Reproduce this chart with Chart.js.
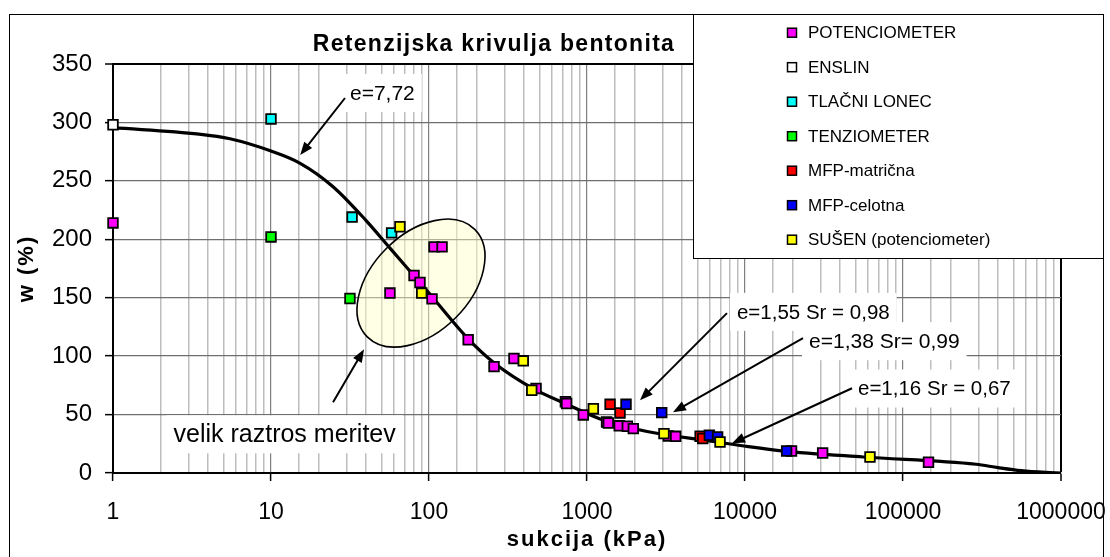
<!DOCTYPE html>
<html><head><meta charset="utf-8">
<script src="https://cdn.jsdelivr.net/npm/chart.js@4.4.1/dist/chart.umd.min.js"></script>
<style>html,body{margin:0;padding:0;background:#fff;}canvas{display:block}</style>
</head><body>
<canvas id="c" width="1110" height="557"></canvas>
<script>
// ---------- data ----------
const chartTitle = 'Retenzijska krivulja bentonita';
const xAxisTitle = 'sukcija (kPa)';
const yAxisTitle = 'w (%)';
const xTickLabels = ['1','10','100','1000','10000','100000','1000000'];
const yTickLabels = ['0','50','100','150','200','250','300','350'];

const seriesNames = ['POTENCIOMETER','ENSLIN','TLAČNI LONEC','TENZIOMETER','MFP-matrična','MFP-celotna','SUŠEN (potenciometer)'];

const potenciometer = [[1,214],[56.6,154],[80.4,169],[87.7,163],[104.5,149],[107.6,193.5],[121,193.5],
  [177,114],[258,91],[345,98],[476,72.3],[730,61],[743,59.5],[948,49.7],[1330,43.7],[1364,42.8],
  [1600,40.4],[1800,40],[1964,38],[3270,31.7],[3640,31.4],[19700,18.8],[31000,17.1],[145000,9.2]];
const enslin = [[1,298]];
const tlacniLonec = [[10,303],[32.6,219],[58,205.5]];
const tenziometer = [[10,202],[31.6,149.3]];
const mfpMatricna = [[1400,58.8],[1618,51.4],[5200,31.5],[5400,29.5]];
const mfpCelotna = [[1766,58.8],[2971,51.7],[5950,32.3],[6710,30.8],[18350,18.8]];
const susen = [[65.5,210.7],[89.9,154],[395,96],[447,70.8],[1097,55],[3070,33.7],[6950,26.5],[61800,13.7]];

const curve = [[1,295.5],[3.5,290],[5.5,286],[10,275.5],[15.3,265],[24.7,245],[40,216],[57,192],[100,154],
  [175,115.5],[260,94],[460,72],[740,59],[1200,46.5],[2400,35.5],[6300,27],[10500,22.5],[17000,19],
  [56000,13.7],[290000,7.5],[400000,4.6],[560000,2],[800000,0.5],[1000000,0]];

const seriesValues = [potenciometer, enslin, tlacniLonec, tenziometer, mfpMatricna, mfpCelotna, susen];
const seriesColors = ['#FF00FF','#FFFFFF','#00FFFF','#00FF00','#FF0000','#0000FF','#FFFF00'];

// annotations anchored in data coordinates
const labels = [
  {text:'e=7,72', x:31.6, w:325.2, align:'left', size:21},
  {text:'velik raztros meritev', x:12.2, w:33.1, align:'center', size:25},
  {text:'e=1,55 Sr = 0,98', x:8894, w:137.9, align:'left', size:20.5},
  {text:'e=1,38 Sr= 0,99', x:25420, w:112.8, align:'left', size:21},
  {text:'e=1,16 Sr = 0,67', x:51900, w:72.3, align:'left', size:20.5}
];
const arrows = [
  {from:[29.4,320.9], to:[15.3,272.1]},
  {from:[24.7,60.5], to:[38.8,105.9]},
  {from:[7690,136.8], to:[2165,62.3]},
  {from:[23280,115.4], to:[3500,52.0]},
  {from:[47560,72.5], to:[8280,25.4]}
];
const ellipseCenter = [89, 162.5];

// ---------- chart ----------
const FONT = "'Liberation Sans', Arial, sans-serif";
const isDecade = v => Math.abs(Math.log10(v) - Math.round(Math.log10(v))) < 1e-9;

function drawArrow(ctx, x1, y1, x2, y2) {
  const ang = Math.atan2(y2 - y1, x2 - x1);
  const L = 13, H = 5;
  ctx.beginPath();
  ctx.moveTo(x1, y1);
  ctx.lineTo(x2 - Math.cos(ang) * L * 0.8, y2 - Math.sin(ang) * L * 0.8);
  ctx.stroke();
  ctx.beginPath();
  ctx.moveTo(x2, y2);
  ctx.lineTo(x2 - Math.cos(ang) * L - Math.sin(ang) * H, y2 - Math.sin(ang) * L + Math.cos(ang) * H);
  ctx.lineTo(x2 - Math.cos(ang) * L + Math.sin(ang) * H, y2 - Math.sin(ang) * L - Math.cos(ang) * H);
  ctx.closePath();
  ctx.fill();
}

const overlay = {
  id: 'overlay',
  beforeDatasetsDraw(chart) {
    const {ctx, scales: {x, y}} = chart;
    const cx = x.getPixelForValue(ellipseCenter[0]), cy = y.getPixelForValue(ellipseCenter[1]);
    ctx.save();
    ctx.beginPath();
    ctx.ellipse(cx, cy, 76, 49, -Math.PI / 4, 0, Math.PI * 2);
    ctx.fillStyle = 'rgba(255,255,200,0.45)';
    ctx.fill();
    ctx.lineWidth = 1.6;
    ctx.strokeStyle = '#000';
    ctx.stroke();
    ctx.restore();
  },
  afterDatasetsDraw(chart) {
    const {ctx, scales: {x, y}} = chart;
    ctx.save();
    ctx.textBaseline = 'middle';
    labels.forEach(l => {
      ctx.font = `${l.size}px ${FONT}`;
      const w = ctx.measureText(l.text).width;
      const px = x.getPixelForValue(l.x), py = y.getPixelForValue(l.w);
      const left = l.align === 'center' ? px - w / 2 : px;
      ctx.fillStyle = '#fff';
      ctx.fillRect(left - 7, py - 19, w + 14, 38);
      ctx.fillStyle = '#000';
      ctx.textAlign = 'left';
      ctx.fillText(l.text, left, py + 1);
    });
    ctx.strokeStyle = '#000';
    ctx.fillStyle = '#000';
    ctx.lineWidth = 2;
    arrows.forEach(a => {
      drawArrow(ctx, x.getPixelForValue(a.from[0]), y.getPixelForValue(a.from[1]),
                     x.getPixelForValue(a.to[0]), y.getPixelForValue(a.to[1]));
    });
    ctx.restore();
  },
  afterDraw(chart) {
    const {ctx, chartArea: ca} = chart;
    ctx.save();
    // outer frame
    ctx.strokeStyle = '#000';
    ctx.lineWidth = 1;
    ctx.strokeRect(9.5, 14.5, 1094, 600);
    // title
    ctx.fillStyle = '#000';
    ctx.textAlign = 'center';
    ctx.textBaseline = 'middle';
    ctx.font = `bold 23px ${FONT}`;
    ctx.letterSpacing = '1.3px';
    ctx.fillText(chartTitle, 494, 45);
    // axis titles
    ctx.font = `bold 22px ${FONT}`;
    ctx.letterSpacing = '2px';
    ctx.fillText(xAxisTitle, (ca.left + ca.right) / 2, 540);
    ctx.save();
    ctx.translate(27, (ca.top + ca.bottom) / 2);
    ctx.rotate(-Math.PI / 2);
    ctx.fillText(yAxisTitle, 0, 0);
    ctx.restore();
    ctx.letterSpacing = '0px';
    // legend
    ctx.fillStyle = '#fff';
    ctx.fillRect(693, 14, 410, 244);
    ctx.strokeStyle = '#000';
    ctx.lineWidth = 1;
    ctx.strokeRect(693.5, 14.5, 410, 244);
    ctx.font = `17px ${FONT}`;
    ctx.textAlign = 'left';
    seriesNames.forEach((name, i) => {
      const yy = 32.7 + i * 34.5;
      ctx.fillStyle = seriesColors[i];
      ctx.fillRect(787.5, yy - 4.5, 9, 9);
      ctx.strokeStyle = '#000';
      ctx.lineWidth = 1.5;
      ctx.strokeRect(787.5, yy - 4.5, 9, 9);
      ctx.fillStyle = '#000';
      ctx.fillText(name, 808, yy + 1);
    });
    ctx.restore();
  }
};

const datasets = seriesValues.map((vals, i) => ({
  type: 'scatter',
  label: seriesNames[i],
  data: vals.map(p => ({x: p[0], y: p[1]})),
  pointStyle: 'rect',
  pointRadius: 6.8,
  pointHoverRadius: 6.8,
  backgroundColor: seriesColors[i],
  borderColor: '#000',
  borderWidth: 1.8,
  clip: false,
  order: 7 - i
}));
datasets.push({
  type: 'line',
  label: 'curve',
  data: curve.map(p => ({x: p[0], y: p[1]})),
  borderColor: '#000',
  borderWidth: 3.2,
  pointRadius: 0,
  fill: false,
  cubicInterpolationMode: 'monotone',
  order: 20
});

new Chart(document.getElementById('c'), {
  data: {datasets},
  options: {
    responsive: false,
    animation: false,
    devicePixelRatio: 1,
    layout: {padding: {left: 0, right: 49, top: 64, bottom: 0}},
    plugins: {legend: {display: false}, tooltip: {enabled: false}, title: {display: false}},
    scales: {
      x: {
        type: 'logarithmic',
        min: 1, max: 1000000,
        afterFit: s => { s.height = 84; s.paddingLeft = 0; s.paddingRight = 0; },
        ticks: {
          autoSkip: false, maxRotation: 0, minRotation: 0,
          color: '#000', font: {family: FONT, size: 23}, padding: 18,
          callback: v => isDecade(v) ? xTickLabels[Math.round(Math.log10(v))] : ''
        },
        grid: {
          color: c => {
            const v = c.tick && c.tick.value;
            if (v >= 1000000) return '#000';
            return isDecade(v) ? '#7f7f7f' : '#bdbdbd';
          },
          lineWidth: c => (c.tick && c.tick.value >= 1000000) ? 2 : (isDecade(c.tick.value) ? 1.2 : 1.5),
          tickColor: c => isDecade(c.tick.value) ? '#000' : 'rgba(0,0,0,0)',
          tickLength: 8,
          tickWidth: 1.5
        },
        border: {color: '#000', width: 2}
      },
      y: {
        type: 'linear',
        min: 0, max: 350,
        afterFit: s => { s.width = 113; s.paddingTop = 0; s.paddingBottom = 0; },
        ticks: {
          stepSize: 50, color: '#000', font: {family: FONT, size: 24}, padding: 13,
          callback: (v) => yTickLabels[Math.round(v / 50)]
        },
        grid: {
          color: c => (c.tick && c.tick.value >= 350) ? '#000' : '#6f6f6f',
          lineWidth: c => (c.tick && c.tick.value >= 350) ? 2 : 1.3,
          tickColor: '#000',
          tickLength: 8,
          tickWidth: 1.5
        },
        border: {color: '#000', width: 2}
      }
    }
  },
  plugins: [overlay]
});
</script>
</body></html>
